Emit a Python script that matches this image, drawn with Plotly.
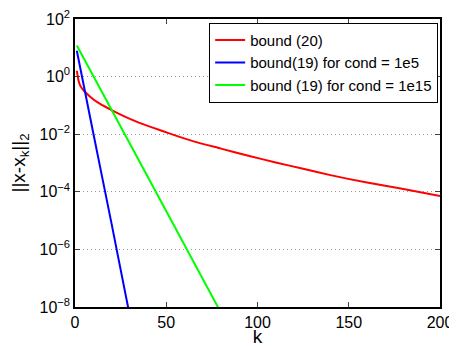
import plotly.graph_objects as go

# Data (log-scale y)
k_red = [1, 2, 3, 5, 8, 12, 19, 27, 34, 43, 52, 65, 80, 95, 110, 125, 140, 160, 180, 200]
log_red = [0.2, -0.15, -0.33, -0.5, -0.68, -0.88, -1.13, -1.38, -1.57, -1.78, -1.98,
           -2.25, -2.5, -2.75, -2.98, -3.2, -3.42, -3.68, -3.9, -4.15]
y_red = [10 ** v for v in log_red]

k_blue = [1, 10, 20, 30]
y_blue = [7.9, 1.1e-2, 8e-6, 5e-9]

k_green = [1, 40, 80]
y_green = [12.0, 3.2e-4, 6.3e-9]

names = ["bound (20)", "bound(19) for cond = 1e5", "bound (19) for cond = 1e15"]
colors = ["#ff0000", "#0000ff", "#00ff00"]

ytick_vals = [1e2, 1e0, 1e-2, 1e-4, 1e-6, 1e-8]
ytick_text = ["10<sup>2</sup>", "10<sup>0</sup>", "10<sup>−2</sup>", "10<sup>−4</sup>",
              "10<sup>−6</sup>", "10<sup>−8</sup>"]
xtick_vals = [0, 50, 100, 150, 200]

fig = go.Figure()
for xs, ys, nm, c in zip([k_red, k_blue, k_green], [y_red, y_blue, y_green], names, colors):
    fig.add_trace(go.Scatter(x=xs, y=ys, mode="lines", name=nm,
                             line=dict(color=c, width=2, shape="spline", smoothing=0.6)))

font = "Liberation Sans, Arial, Helvetica, sans-serif"
# page body has an 8px margin, so the figure is offset by 8px in the window
fig.update_layout(
    width=449, height=339,
    margin=dict(l=66.5, r=17, t=11, b=40),
    paper_bgcolor="white", plot_bgcolor="white",
    font=dict(family=font, size=16, color="black"),
    showlegend=True,
    legend=dict(x=0.995, y=0.987, xanchor="right", yanchor="top",
                bgcolor="white", bordercolor="black", borderwidth=1,
                font=dict(size=15), tracegroupgap=0, itemwidth=30),
    xaxis=dict(range=[0, 200], tickvals=xtick_vals, ticks="inside", ticklen=5,
               showline=True, linecolor="black", linewidth=1.5, mirror="ticks",
               showgrid=False, zeroline=False, automargin=False,
               ticklabeloverflow="allow",
               title=dict(text="k", standoff=1), tickfont=dict(size=16)),
    yaxis=dict(type="log", range=[-8, 2], tickvals=ytick_vals, ticktext=ytick_text,
               ticks="inside", ticklen=5, showline=True, linecolor="black", linewidth=1.5,
               mirror="ticks", showgrid=True, gridcolor="#999999", griddash="1px,3px",
               gridwidth=1, zeroline=False, automargin=False,
               ticklabeloverflow="allow",
               title=dict(text="||x-x<sub>k</sub>||<sub>2</sub>", standoff=17),
               tickfont=dict(size=16)),
)
fig.write_html("out.html")
